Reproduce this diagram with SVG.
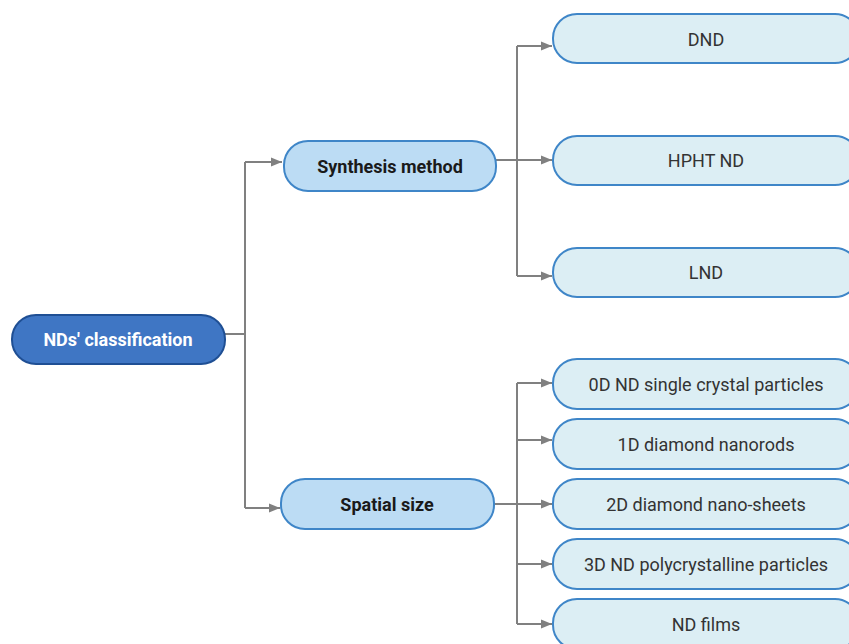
<svg xmlns="http://www.w3.org/2000/svg" width="849" height="644" viewBox="0 0 849 644">
<defs>
<marker id="ah" markerWidth="12" markerHeight="12" refX="11" refY="6" orient="auto" markerUnits="userSpaceOnUse">
<path d="M0,1.5 L11,6 L0,10.5 Z" fill="#808080"/>
</marker>
<style>
.c{fill:none;stroke:#808080;stroke-width:2}
.root{fill:#3f76c4;stroke:#1f4f94;stroke-width:2}
.mid{fill:#bcdcf4;stroke:#3f86c8;stroke-width:2}
.leaf{fill:#dceef4;stroke:#3f86c8;stroke-width:2}
text{font-family:Roboto,"Liberation Sans",sans-serif;text-anchor:middle;dominant-baseline:central}
.tr{fill:#ffffff;font-weight:bold;font-size:18px}
.tm{fill:#1a1a1a;font-weight:bold;font-size:18px}
.tl{fill:#333333;font-size:18px}
</style>
</defs>
<rect width="849" height="644" fill="#ffffff"/>
<g id="connectors">
<path class="c" d="M225,334 H245"/>
<path class="c" d="M245,162 V508"/>
<path class="c" d="M245,162 H282" marker-end="url(#ah)"/>
<path class="c" d="M245,508 H280" marker-end="url(#ah)"/>
<path class="c" d="M496,160 H552" marker-end="url(#ah)"/>
<path class="c" d="M517,46 V276"/>
<path class="c" d="M517,46 H552" marker-end="url(#ah)"/>
<path class="c" d="M517,276 H552" marker-end="url(#ah)"/>
<path class="c" d="M494,504 H552" marker-end="url(#ah)"/>
<path class="c" d="M517,383 V624"/>
<path class="c" d="M517,383 H552" marker-end="url(#ah)"/>
<path class="c" d="M517,440 H552" marker-end="url(#ah)"/>
<path class="c" d="M517,564 H552" marker-end="url(#ah)"/>
<path class="c" d="M517,624 H552" marker-end="url(#ah)"/>
</g>
<g id="root"><rect class="root" x="12" y="315" width="213" height="49" rx="24"/><text class="tr" x="118" y="339">NDs' classification</text></g>
<g id="synthesis"><rect class="mid" x="284" y="141" width="212" height="50" rx="24"/><text class="tm" x="390" y="166">Synthesis method</text></g>
<g id="spatial"><rect class="mid" x="281" y="479" width="213" height="50" rx="24"/><text class="tm" x="387" y="504">Spatial size</text></g>
<g id="dnd"><rect class="leaf" x="553" y="14" width="306" height="49" rx="24"/><text class="tl" x="706" y="39">DND</text></g>
<g id="hpht"><rect class="leaf" x="553" y="136" width="306" height="49" rx="24"/><text class="tl" x="706" y="160">HPHT ND</text></g>
<g id="lnd"><rect class="leaf" x="553" y="248" width="306" height="49" rx="24"/><text class="tl" x="706" y="272">LND</text></g>
<g id="d0"><rect class="leaf" x="553" y="359" width="306" height="50" rx="24"/><text class="tl" x="706" y="384">0D ND single crystal particles</text></g>
<g id="d1"><rect class="leaf" x="553" y="419" width="306" height="50" rx="24"/><text class="tl" x="706" y="444">1D diamond nanorods</text></g>
<g id="d2"><rect class="leaf" x="553" y="479" width="306" height="50" rx="24"/><text class="tl" x="706" y="504">2D diamond nano-sheets</text></g>
<g id="d3"><rect class="leaf" x="553" y="539" width="306" height="50" rx="24"/><text class="tl" x="706" y="564">3D ND polycrystalline particles</text></g>
<g id="films"><rect class="leaf" x="553" y="599" width="306" height="50" rx="24"/><text class="tl" x="706" y="624">ND films</text></g>
</svg>
